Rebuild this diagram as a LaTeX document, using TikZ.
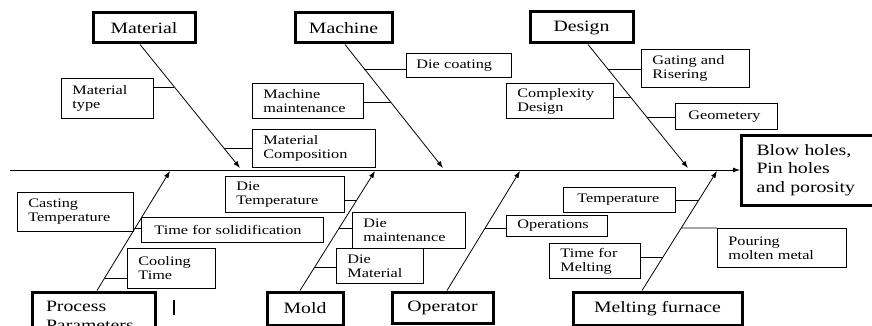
\documentclass[tikz,border=0pt]{standalone}
\usepackage{fontspec}
\setmainfont[FakeStretch=1.25]{Liberation Serif}
\usetikzlibrary{arrows.meta}
\begin{document}
\begin{tikzpicture}[x=1pt,y=-1pt,
  catbox/.style={draw, line width=3pt, font=\fontsize{15.8}{18.5}\selectfont, inner sep=0pt, align=center},
  cbox/.style={draw, line width=0.8pt, font=\fontsize{13}{14}\selectfont, inner xsep=11pt, inner ysep=2pt, anchor=north west, align=left},
  bone/.style={line width=0.8pt, -{Latex[length=7pt,width=5pt]}},
  conn/.style={line width=0.8pt}]
\fill[white] (0,0) rectangle (872,326);
\useasboundingbox (0,0) rectangle (872,326);

% category boxes
\node[catbox, minimum width=102pt, minimum height=30pt] (mat) at (144,28) {Material};
\node[catbox, minimum width=97pt, minimum height=30pt] (mach) at (343.5,28) {Machine};
\node[catbox, minimum width=103pt, minimum height=31pt] (des) at (581.5,27.5) {Design};
\node[catbox, anchor=west, text width=118pt, inner xsep=15pt, minimum height=70pt, align=left] (eff) at (740,170) {Blow holes,\\Pin holes\\and porosity};
\node[catbox, text width=95pt, inner xsep=14pt, minimum height=48pt, align=left] (proc) at (93.5,316) {Process\\Parameters};
\node[catbox, minimum width=76pt, minimum height=33pt] (mold) at (305,308.5) {Mold};
\node[catbox, minimum width=101pt, minimum height=31pt] (oper) at (442.5,307.5) {Operator};
\node[catbox, minimum width=169pt, minimum height=33pt] (melt) at (657.5,308.5) {Melting furnace};

% cause boxes
\node[cbox, text width=70pt, minimum height=40pt] (mtype) at (61,78) {Material\\type};
\node[cbox, text width=101pt, minimum height=38pt] (mcomp) at (252,129) {Material\\Composition};
\node[cbox, text width=89pt, minimum height=35pt] (mmaint) at (252,83) {Machine\\maintenance};
\node[cbox, text width=85pt, minimum height=24pt, inner xsep=10pt] (dcoat) at (406,53) {Die coating};
\node[cbox, text width=85pt, minimum height=35pt] (cdes) at (506,83) {Complexity\\Design};
\node[cbox, text width=86pt, minimum height=38pt] (gat) at (641,49) {Gating and\\Risering};
\node[cbox, text width=76pt, minimum height=26pt, inner xsep=13pt] (geo) at (675,103) {Geometery};
\node[cbox, text width=94pt, minimum height=39pt] (cast) at (17,192) {Casting\\Temperature};
\node[cbox, text width=156pt, minimum height=25pt, inner xsep=13pt] (tsol) at (141,217) {Time for solidification};
\node[cbox, text width=66pt, minimum height=40pt] (cool) at (127,248) {Cooling\\Time};
\node[cbox, text width=97pt, minimum height=36pt] (dtemp) at (225,176) {Die\\Temperature};
\node[cbox, text width=91pt, minimum height=36pt] (dmaint) at (352,212) {Die\\maintenance};
\node[cbox, text width=65pt, minimum height=35pt] (dmat) at (336,248) {Die\\Material};
\node[cbox, text width=79pt, minimum height=21pt] (ops) at (506,215) {Operations};
\node[cbox, text width=84pt, minimum height=25pt, inner xsep=14pt] (temp) at (563,187) {Temperature};
\node[cbox, text width=69pt, minimum height=35pt] (tmelt) at (549,243) {Time for\\Melting};
\node[cbox, text width=107pt, minimum height=39pt] (pour) at (717,228) {Pouring\\molten metal};

% spine
\coordinate (sp) at (10,170);
\draw[bone] (sp) -- (eff.west);

% bones
\coordinate (matA) at ([xshift=-4pt]mat.south);   \coordinate (matB) at (240,168);
\coordinate (machA) at ([xshift=1.5pt]mach.south); \coordinate (machB) at (443,168);
\coordinate (desA) at ([xshift=6.5pt]des.south);  \coordinate (desB) at (688,168);
\coordinate (procA) at ([xshift=3.5pt]proc.north); \coordinate (procB) at (170,171);
\coordinate (moldA) at ([xshift=-5pt]mold.north); \coordinate (moldB) at (375,171);
\coordinate (operA) at ([xshift=4.5pt]oper.north); \coordinate (operB) at (520,171);
\coordinate (meltA) at ([xshift=-15.5pt]melt.north); \coordinate (meltB) at (717,171);
\foreach \b in {mat,mach,des,proc,mold,oper,melt}{
  \draw[bone] (\b A) -- (\b B);
}

% connector points on bones
\coordinate (k1) at (intersection of matA--matB and 0,87--1,87);
\coordinate (k2) at (intersection of matA--matB and 0,148--1,148);
\coordinate (k3) at (intersection of machA--machB and 0,102--1,102);
\coordinate (k4) at (intersection of machA--machB and 0,69--1,69);
\coordinate (k5) at (intersection of desA--desB and 0,97--1,97);
\coordinate (k6) at (intersection of desA--desB and 0,69--1,69);
\coordinate (k7) at (intersection of desA--desB and 0,117--1,117);
\coordinate (k8) at (intersection of procA--procB and 0,228--1,228);
\coordinate (k9) at (intersection of procA--procB and 0,278--1,278);
\coordinate (k10) at (intersection of moldA--moldB and 0,200--1,200);
\coordinate (k11) at (intersection of moldA--moldB and 0,228--1,228);
\coordinate (k12) at (intersection of moldA--moldB and 0,267--1,267);
\coordinate (k13) at (intersection of operA--operB and 0,228--1,228);
\coordinate (k14) at (intersection of meltA--meltB and 0,200--1,200);
\coordinate (k15) at (intersection of meltA--meltB and 0,257--1,257);
\coordinate (k16) at (intersection of meltA--meltB and 0,228--1,228);

\draw[conn] (mtype.east |- k1) -- (k1);
\draw[conn] (k2) -- (mcomp.west |- k2);
\draw[conn] (mmaint.east |- k3) -- (k3);
\draw[conn] (k4) -- (dcoat.west |- k4);
\draw[conn] (cdes.east |- k5) -- (k5);
\draw[conn] (k6) -- (gat.west |- k6);
\draw[conn] (k7) -- (geo.west |- k7);
\draw[conn] (k8) -- (tsol.west |- k8);
\draw[conn] (k9) -- (cool.west |- k9);
\draw[conn] (dtemp.east |- k10) -- (k10);
\draw[conn] (k11) -- (dmaint.west |- k11);
\draw[conn] (k12) -- (dmat.west |- k12);
\draw[conn] (k13) -- (ops.west |- k13);
\draw[conn] (temp.east |- k14) -- (k14);
\draw[conn] (tmelt.east |- k15) -- (k15);
\draw[conn] (k16) -- (pour.north west);

% stray mark
\draw[line width=1.6pt] (174,300) -- (174,315);
\end{tikzpicture}
\end{document}
